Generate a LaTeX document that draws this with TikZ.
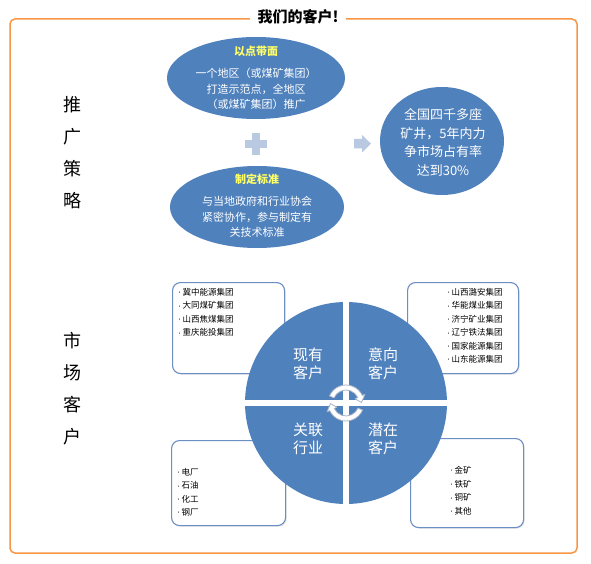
\documentclass[tikz,border=0pt]{standalone}
\usepackage{fontspec}
\setmainfont{Noto Sans CJK SC}
\usetikzlibrary{shapes.geometric,shadows}
\definecolor{orng}{HTML}{F79646}
\definecolor{qblue}{HTML}{4F81BD}
\definecolor{pale}{HTML}{B9C9E1}
\definecolor{boxedge}{HTML}{6B8EC4}
\definecolor{ylw}{HTML}{FFFF66}
\definecolor{arcedge}{HTML}{A8B4C6}
\newcommand{\bul}{\makebox[5.5pt][l]{\raisebox{0.6pt}{\fontsize{5}{5}\selectfont•}}}
\begin{document}
\begin{tikzpicture}[x=1pt,y=-1pt,
  ell/.style={ellipse, fill=qblue, draw=none, inner sep=0},
  etxt/.style={text=white, align=center, font=\fontsize{11}{15.5}\selectfont, inner sep=0},
  ctxt/.style={text=white, align=center, font=\fontsize{13}{18.5}\selectfont, inner sep=0},
  qtxt/.style={text=white, align=center, font=\fontsize{15}{18}\selectfont, inner sep=0},
  side/.style={align=center, font=\fontsize{18}{32}\selectfont, inner sep=0},
  itembox/.style={rectangle, rounded corners=8pt, draw=boxedge, line width=1.1pt, fill=white, inner sep=0,
     drop shadow={opacity=0.18, shadow xshift=1.2pt, shadow yshift=-1.2pt}},
  item/.style={font=\fontsize{8.5}{10}\selectfont, inner sep=0, anchor=base west},
  cyc/.style={fill=white, draw=arcedge, line width=0.8pt, line join=round}]
\useasboundingbox (0,0) rectangle (591,564);
% frame
\draw[orng, line width=1.5pt, rounded corners=5pt] (10,19) rectangle (577,553);
\node[fill=white, inner xsep=8pt, inner ysep=2pt, font=\fontsize{15}{18}\selectfont\bfseries] (title) at (298,17) {我们的客户!};
% side labels
\node[side] (s1) at (72,153) {推\\广\\策\\略};
\node[side] (s2) at (72,389) {市\\场\\客\\户};
% strategy ellipses
\node[ell, minimum width=178pt, minimum height=82pt] (e1) at (256,78) {};
\node[etxt] (e1t) at (256,78) {{\color{ylw}\bfseries 以点带面}\\[6.5pt]一个地区（或煤矿集团）\\打造示范点，全地区\\（或煤矿集团）推广};
\node[ell, minimum width=174pt, minimum height=82pt] (e2) at (257,207) {};
\node[etxt] (e2t) at (257,206) {{\color{ylw}\bfseries 制定标准}\\[6.5pt]与当地政府和行业协会\\紧密协作，参与制定有\\关技术标准};
\node[ell, minimum width=124pt, minimum height=108pt] (e3) at (442,141) {};
\node[ctxt] (e3t) at (443,142.5) {全国四千多座\\矿井，5年内力\\争市场占有率\\达到30\%};
% plus and arrow
\fill[pale] (245,140) rectangle (267,148);
\fill[pale] (252,133) rectangle (260,155);
\fill[pale] (354,139) -- (362,139) -- (362,135) -- (371,143.7) -- (362,152.5) -- (362,148.5) -- (354,148.5) -- cycle;
% item boxes
\node[itembox, minimum width=112pt, minimum height=91pt, anchor=north west] (b1) at (172,282) {};
\node[itembox, minimum width=111pt, minimum height=91pt, anchor=north west] (b2) at (407,282) {};
\node[itembox, minimum width=114pt, minimum height=85pt, anchor=north west] (b3) at (171,440) {};
\node[itembox, minimum width=113pt, minimum height=89pt, anchor=north west] (b4) at (410,438) {};
\foreach \t [count=\i] in {冀中能源集团,大同煤矿集团,山西焦煤集团,重庆能投集团}
  \node[item] (b1i\i) at (177,{295.5+13.4*(\i-1)}) {\bul\t};
\foreach \t [count=\i] in {山西潞安集团,华能煤业集团,济宁矿业集团,辽宁铁法集团,国家能源集团,山东能源集团}
  \node[item] (b2i\i) at (446,{295.5+13.4*(\i-1)}) {\bul\t};
\foreach \t [count=\i] in {电厂,石油,化工,钢厂}
  \node[item] (b3i\i) at (176,{475.5+13.3*(\i-1)}) {\bul\t};
\foreach \t [count=\i] in {金矿,铁矿,铜矿,其他}
  \node[item] (b4i\i) at (449,{473.5+13.6*(\i-1)}) {\bul\t};
% quadrant circle
\node[circle, fill=qblue, minimum size=202pt, inner sep=0] (qc) at (346,403) {};
\begin{scope}
  \clip (346,403) circle[radius=102];
  \fill[white] (343,299) rectangle (349,507);
  \fill[white] (242,400) rectangle (450,406);
\end{scope}
\node[qtxt] (q1) at (308,364) {现有\\客户};
\node[qtxt] (q2) at (383,364) {意向\\客户};
\node[qtxt] (q3) at (308,439) {关联\\行业};
\node[qtxt] (q4) at (383,439) {潜在\\客户};
% cycle arrows
\begin{scope}[shift={(346,403)}]
  \draw[cyc] (203:18) arc[start angle=203,end angle=335,radius=18] -- (335:21) -- (358:15.5) -- (335:10) -- (335:13) arc[start angle=335,end angle=203,radius=13] -- cycle;
  \draw[cyc] (23:18) arc[start angle=23,end angle=155,radius=18] -- (155:21) -- (178:15.5) -- (155:10) -- (155:13) arc[start angle=155,end angle=23,radius=13] -- cycle;
\end{scope}
\end{tikzpicture}
\end{document}
